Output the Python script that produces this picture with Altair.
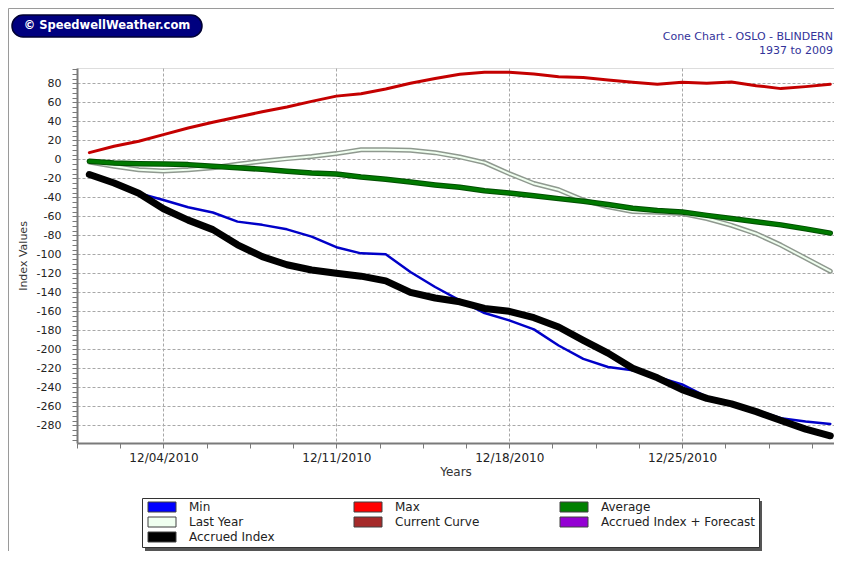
import altair as alt
import pandas as pd

# ---------------- data ----------------
days = pd.date_range("2010-12-01", periods=31, freq="D").strftime("%Y-%m-%d").tolist()

min_vals = [-16, -25, -35.8, -42.8, -50.5, -56, -65.6, -69, -73.7, -81.4,
            -92.5, -99, -100, -118.6, -134.4, -148.4, -161.8, -169.5, -179, -196,
            -210, -218.6, -222, -229, -237, -250, -256, -264, -272.6, -276, -278.6]
max_vals = [7, 13.7, 19, 26, 33, 39, 44.5, 50, 55, 61,
            66.5, 69, 74, 80, 85, 89.5, 91.5, 91.5, 89.8, 87,
            86, 83.5, 81, 79, 81, 80, 81.4, 77.5, 74.4, 76.5, 79]
avg_vals = [-2, -4, -4.6, -5, -5.6, -7.4, -8.8, -10.5, -12.6, -14.4,
            -15.5, -18.6, -21, -24, -27, -29.5, -33, -35.4, -38.3, -41.4,
            -44.2, -47.5, -51.5, -54, -55.5, -59, -62.3, -65.8, -69, -73.2, -77.7]
last_year_vals = [-2.8, -7.4, -11, -12.3, -11, -8.8, -5.3, -2, 0.7, 3,
                  6, 10, 10, 9.5, 7, 2.5, -3.5, -15, -25.5, -32,
                  -43, -50, -55, -55.7, -57, -62.3, -69.5, -78.3, -90.3, -104, -117.8]
accrued_vals = [-16, -25, -35.8, -52, -64, -74, -90, -102.5, -111, -116.5,
                -120, -123, -128, -140, -146, -150, -157, -160, -166.7, -176.5,
                -190.5, -204, -220, -230, -242.5, -251.6, -257.5, -265.6, -275, -284, -291]

legend_names = ["Min", "Max", "Average", "Last Year", "Current Curve",
                "Accrued Index + Forecast", "Accrued Index"]
legend_colors = ["#0000FF", "#FF0000", "#008000", "#F0FFF0", "#A52A2A",
                 "#9400D3", "#000000"]

title_lines = ["Cone Chart - OSLO - BLINDERN", "1937 to 2009"]
logo_text = "© SpeedwellWeather.com"

series = {
    "Last Year": last_year_vals,
    "Average": avg_vals,
    "Max": max_vals,
    "Min": min_vals,
    "Accrued Index": accrued_vals,
}
rows = []
for name, vals in series.items():
    for d, v in zip(days, vals):
        rows.append({"date": d, "series": name, "value": v})
df = pd.DataFrame(rows)

# ---------------- axes ----------------
MS_DAY = 86400000
x_start = int(pd.Timestamp("2010-11-30 12:00", tz="UTC").value // 10**6)
x_end = int(pd.Timestamp("2010-12-31 03:36", tz="UTC").value // 10**6)
x_ticks = [x_start + int(i * 1.75 * MS_DAY) for i in range(18)]
y_ticks = list(range(-295, 96, 5))

FONT = "DejaVu Sans"
AXIS_GREY = "#7a7a7a"
GRID_GREY = "#a8a8a8"

x_enc = alt.X(
    "date:T",
    scale=alt.Scale(type="utc", domain=[x_start, x_end]),
    axis=alt.Axis(
        values=x_ticks,
        labelExpr="utchours(datum.value) == 0 ? utcFormat(datum.value, '%m/%d/%Y') : ''",
        labelOverlap=False,
        labelFlush=False,
        labelBound=False,
        grid=True,
        gridOpacity={"condition": {"test": "utchours(datum.value) == 0", "value": 1}, "value": 0},
        gridColor=GRID_GREY,
        gridDash=[3, 2],
        tickSize=5,
        tickColor=AXIS_GREY,
        domainColor=AXIS_GREY,
        domainWidth=2,
        labelFont=FONT,
        labelFontSize=12,
        labelColor="#222222",
        labelPadding=4,
        title="Years",
        titleFont=FONT,
        titleFontSize=12,
        titleFontWeight="normal",
        titleColor="#333333",
        titlePadding=3,
    ),
)
y_enc = alt.Y(
    "value:Q",
    scale=alt.Scale(domain=[-298.6, 96.1], nice=False, zero=False),
    axis=alt.Axis(
        values=y_ticks,
        labelExpr="datum.value % 20 == 0 ? '' + datum.value : ''",
        labelOverlap=False,
        labelFlush=False,
        labelBound=False,
        grid=True,
        gridOpacity={"condition": {"test": "datum.value % 20 == 0", "value": 1}, "value": 0},
        gridColor=GRID_GREY,
        gridDash=[3, 2],
        tickSize=5,
        tickColor=AXIS_GREY,
        domainColor=AXIS_GREY,
        domainWidth=2,
        labelFont=FONT,
        labelFontSize=11,
        labelColor="#222222",
        labelPadding=11,
        title="Index Values",
        titleFont=FONT,
        titleFontSize=11,
        titleFontWeight="normal",
        titleColor="#333333",
        titlePadding=8,
    ),
)

base = alt.Chart(df)


def line(name, color, width):
    return (
        base.transform_filter(alt.datum.series == name)
        .mark_line(color=color, strokeWidth=width, strokeJoin="round", strokeCap="round")
        .encode(x=x_enc, y=y_enc)
    )


layers = [
    line("Last Year", "#8f998f", 5),
    line("Last Year", "#F0FFF0", 2),
    line("Average", "#004f00", 5.5),
    line("Average", "#007a00", 3.5),
    line("Max", "#c40000", 3),
    line("Min", "#0000c8", 2.5),
    line("Accrued Index", "#000000", 7),
]

one = pd.DataFrame({"k": [0]})

# frame lines of the picture
frame = [
    alt.Chart(one).mark_rule(color="#9a9a9a", strokeWidth=1).encode(
        x=alt.value(-68.5), y=alt.value(-59.5), y2=alt.value(483)),
    alt.Chart(one).mark_rule(color="#9a9a9a", strokeWidth=1).encode(
        x=alt.value(-68.5), x2=alt.value(757), y=alt.value(-59.5)),
]

# logo pill
logo = [
    alt.Chart(one).mark_rect(cornerRadius=11, fill="#00007f", stroke="#000033", strokeWidth=1.5).encode(
        x=alt.value(-65), x2=alt.value(125), y=alt.value(-53), y2=alt.value(-31)),
    alt.Chart(one).mark_text(text=logo_text, color="white", font=FONT,
                             fontWeight="bold", fontSize=11.5, align="center",
                             baseline="middle").encode(x=alt.value(30), y=alt.value(-42)),
]

# chart title (top right)
titles = [
    alt.Chart(one).mark_text(text=title_lines[0], color="#33339a", font=FONT, fontSize=11,
                             align="right", baseline="middle").encode(
        x=alt.value(756), y=alt.value(-31)),
    alt.Chart(one).mark_text(text=title_lines[1], color="#33339a", font=FONT, fontSize=11,
                             align="right", baseline="middle").encode(
        x=alt.value(756), y=alt.value(-17)),
]

# legend + its shadow
LEG_X, LEG_Y = 65, 430
LEG_W, LEG_H = 617, 50
shadow = alt.Chart(one).mark_rect(fill="#555555").encode(
    x=alt.value(LEG_X + 3), x2=alt.value(LEG_X + 3 + LEG_W),
    y=alt.value(LEG_Y + 3), y2=alt.value(LEG_Y + 3 + LEG_H))

legend_layer = (
    alt.Chart(pd.DataFrame({"name": legend_names}))
    .transform_filter("false")
    .mark_point(filled=True, shape="M-2.8,-1H2.8V1H-2.8Z", stroke="#404040", strokeWidth=1)
    .encode(
        fill=alt.Fill(
            "name:N",
            scale=alt.Scale(domain=legend_names, range=legend_colors),
            legend=alt.Legend(
                orient="none",
                direction="horizontal",
                legendX=LEG_X,
                legendY=LEG_Y,
                title=None,
                columns=3,
                gridAlign="all",
                columnPadding=7,
                rowPadding=1,
                padding=3,
                fillColor="white",
                strokeColor="#333333",
                symbolType="M-2.8,-1H2.8V1H-2.8Z",
                symbolSize=100,
                symbolOffset=11,
                symbolStrokeColor="#404040",
                symbolStrokeWidth=1,
                symbolOpacity=1,
                labelOffset=21,
                labelFont=FONT,
                labelFontSize=12,
                labelColor="#222222",
                labelLimit=300,
            ),
        )
    )
)

chart = (
    alt.layer(*frame, *logo, *titles, *layers, shadow, legend_layer)
    .properties(
        width=757,
        height=375,
        autosize=alt.AutoSizeParams(type="none"),
        padding={"left": 69, "top": 60, "right": 0, "bottom": 108},
    )
    .configure_view(strokeWidth=0)
    .configure(background="white")
)

chart.save("out.html", embed_options={"renderer": "svg", "actions": False})
